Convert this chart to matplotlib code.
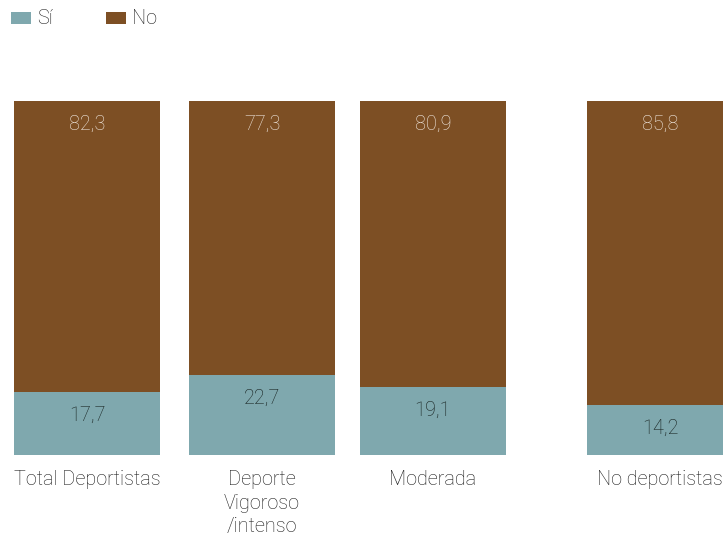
import matplotlib
matplotlib.use("Agg")
import matplotlib.pyplot as plt
from matplotlib.patches import Rectangle

categories = ["Total Deportistas", "Deporte\nVigoroso\n/intenso", "Moderada", "No deportistas"]
si_values = [17.7, 22.7, 19.1, 14.2]
no_values = [82.3, 77.3, 80.9, 85.8]
series_names = ["Sí", "No"]

SI_COLOR = "#7fa8ae"
NO_COLOR = "#7d4f24"
FONT = ["Roboto", "DejaVu Sans"]
FS = 14.3

W, H = 723, 535
fig = plt.figure(figsize=(W / 100, H / 100), dpi=100)

# axes spans the bar area in pixel terms: bottom at y=455, top at y=101
ax = fig.add_axes([0, (H - 455) / H, 1, 354 / H])
ax.set_xlim(0, W)
ax.set_ylim(0, 100)
ax.axis("off")

centers = [87, 262, 433, 660]
bar_w = 146

ax.bar(centers, si_values, width=bar_w, color=SI_COLOR, linewidth=0)
ax.bar(centers, no_values, bottom=si_values, width=bar_w, color=NO_COLOR, linewidth=0)

label_drop = 6.6
for c, s, n, cat in zip(centers, si_values, no_values, categories):
    ax.text(c, s - label_drop, f"{s:.1f}".replace(".", ","), ha="center", va="center",
            fontsize=FS, color="#16211f", family=FONT, fontweight="light")
    ax.text(c, 100 - label_drop, f"{n:.1f}".replace(".", ","), ha="center", va="center",
            fontsize=FS, color="#f2eae2", family=FONT, fontweight="light")
    ax.text(c, -4.3, cat, ha="center", va="top", fontsize=FS, color="#1a1a1a",
            family=FONT, fontweight="light", linespacing=1.3)

# legend
for x0, col, name in [(11, SI_COLOR, series_names[0]), (106, NO_COLOR, series_names[1])]:
    fig.patches.append(Rectangle((x0 / W, 1 - 24 / H), 20 / W, 12 / H,
                                 transform=fig.transFigure, color=col, linewidth=0))
    fig.text((x0 + 26) / W, 1 - 18 / H, name, ha="left", va="center", fontsize=FS,
             color="#1a1a1a", family=FONT, fontweight="light")

fig.savefig("out.png", dpi=100)
